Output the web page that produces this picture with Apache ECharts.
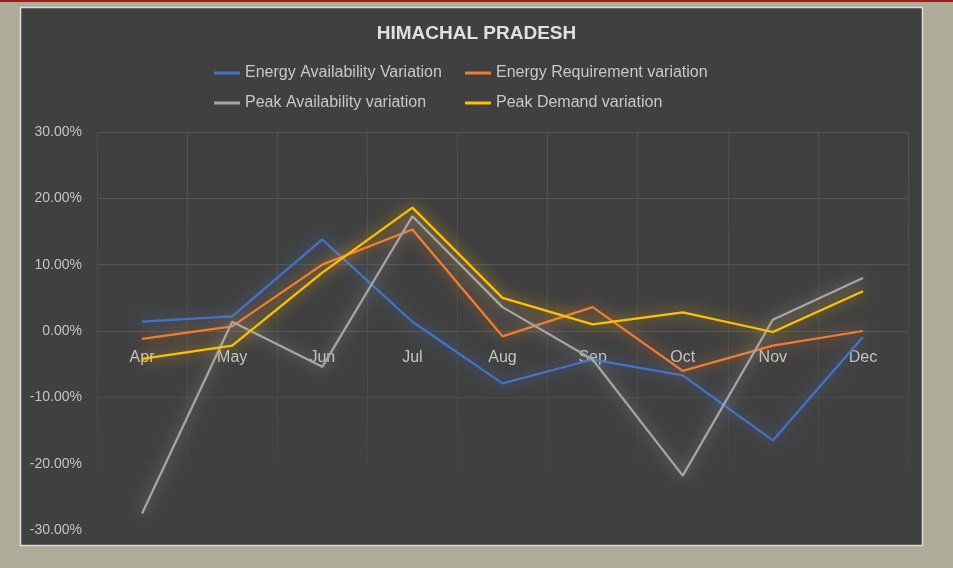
<!DOCTYPE html>
<html>
<head>
<meta charset="utf-8">
<script src="https://cdn.jsdelivr.net/npm/echarts@6/dist/echarts.min.js"></script>
<style>
html,body{margin:0;padding:0;background:#aeac99;}
#chart{width:953px;height:568px;}
</style>
</head>
<body>
<div id="chart"></div>
<script>
// Data (percent values)
const months = ['Apr','May','Jun','Jul','Aug','Sep','Oct','Nov','Dec'];
const energyAvailability = [1.4, 2.2, 13.8, 1.4, -7.9, -4.3, -6.7, -16.5, -0.9];
const energyRequirement = [-1.2, 0.7, 10.0, 15.3, -0.8, 3.6, -6.0, -2.2, 0.0];
const peakAvailability = [-27.5, 1.4, -5.4, 17.3, 3.6, -4.3, -21.8, 1.7, 8.0];
const peakDemand = [-4.2, -2.2, 8.8, 18.6, 5.0, 1.0, 2.8, -0.15, 6.0];
const yTicks = {min: -30, max: 30, interval: 10};
const seriesNames = ['Energy Availability Variation','Energy Requirement variation','Peak Availability variation','Peak Demand variation'];
const seriesColors = ['#4472C4','#ED7D31','#A5A5A5','#FFC000'];
const seriesData = [energyAvailability, energyRequirement, peakAvailability, peakDemand];

const chart = echarts.init(document.getElementById('chart'), null, {renderer:'canvas'});
const FONT = '"Liberation Sans", Arial, sans-serif';

function glowHex(hex, a){
  const r=parseInt(hex.slice(1,3),16), g=parseInt(hex.slice(3,5),16), b=parseInt(hex.slice(5,7),16);
  return 'rgba('+r+','+g+','+b+','+a+')';
}

const gridTop = 132, gridBottom = 38, H = 568;
const plotH = H - gridTop - gridBottom;
// move the category axis to the zero line of the value axis
const zeroOffset = -plotH * (0 - yTicks.min) / (yTicks.max - yTicks.min);

const option = {
  backgroundColor: '#aeac99',
  animation: false,
  graphic: [
    {type:'rect', shape:{x:0,y:0,width:953,height:2}, style:{fill:'#a31a1a'}, z:-10, silent:true},
    {type:'rect', shape:{x:20.5,y:7.5,width:902,height:538}, style:{fill:'#404040', stroke:'#dcdcdc', lineWidth:1.5}, z:-10, silent:true}
  ],
  title: {
    text: 'HIMACHAL PRADESH',
    left: 'center',
    top: 19,
    textStyle: {color:'#e0e0e0', fontFamily: FONT, fontSize: 19, fontWeight:'bold'}
  },
  legend: [
    {
      data: [seriesNames[0], seriesNames[2]],
      orient: 'vertical',
      left: 214, top: 65, padding: 0,
      itemWidth: 26, itemHeight: 3, itemGap: 14,
      icon: 'rect',
      textStyle: {color:'#c8c8c8', fontFamily: FONT, fontSize: 16},
      selectedMode: false
    },
    {
      data: [seriesNames[1], seriesNames[3]],
      orient: 'vertical',
      left: 465, top: 65, padding: 0,
      itemWidth: 26, itemHeight: 3, itemGap: 14,
      icon: 'rect',
      textStyle: {color:'#c8c8c8', fontFamily: FONT, fontSize: 16},
      selectedMode: false
    }
  ],
  grid: {left: 97, right: 45, top: gridTop, bottom: gridBottom, containLabel: false},
  xAxis: {
    type: 'category',
    data: months,
    boundaryGap: true,
    offset: zeroOffset,
    z: 1,
    axisLine: {show: true, onZero: false, lineStyle: {color:'#555555', width:1}},
    axisTick: {show: false},
    axisLabel: {color:'#c4c4c4', fontFamily: FONT, fontSize: 16, margin: 19},
    splitLine: {show: true, lineStyle: {
      color: new echarts.graphic.LinearGradient(0, 0, 0, 1, [
        {offset: 0, color: '#515151'},
        {offset: 0.6, color: '#4c4c4c'},
        {offset: 0.82, color: '#444444'},
        {offset: 0.86, color: '#404040'},
        {offset: 1, color: '#404040'}
      ]), width: 1}}
  },
  yAxis: {
    type: 'value',
    min: yTicks.min, max: yTicks.max, interval: yTicks.interval,
    axisLine: {show:false},
    axisTick: {show:false},
    axisLabel: {color:'#c4c4c4', fontFamily: FONT, fontSize: 14, margin: 15,
      formatter: v => v.toFixed(2) + '%'},
    splitLine: {show:true, lineStyle:{color:['rgba(0,0,0,0)','#444444','#4b4b4b','#555555','#555555','#555555','#555555'], width:1}}
  },
  series: seriesNames.map((name, i) => ({
    name: name,
    type: 'line',
    data: seriesData[i],
    showSymbol: false,
    symbol: 'none',
    color: seriesColors[i],
    lineStyle: {color: seriesColors[i], width: 2.25, shadowBlur: 14, shadowColor: glowHex(seriesColors[i], 0.85)},
    z: 3 + i
  }))
};
chart.setOption(option);
</script>
</body>
</html>
